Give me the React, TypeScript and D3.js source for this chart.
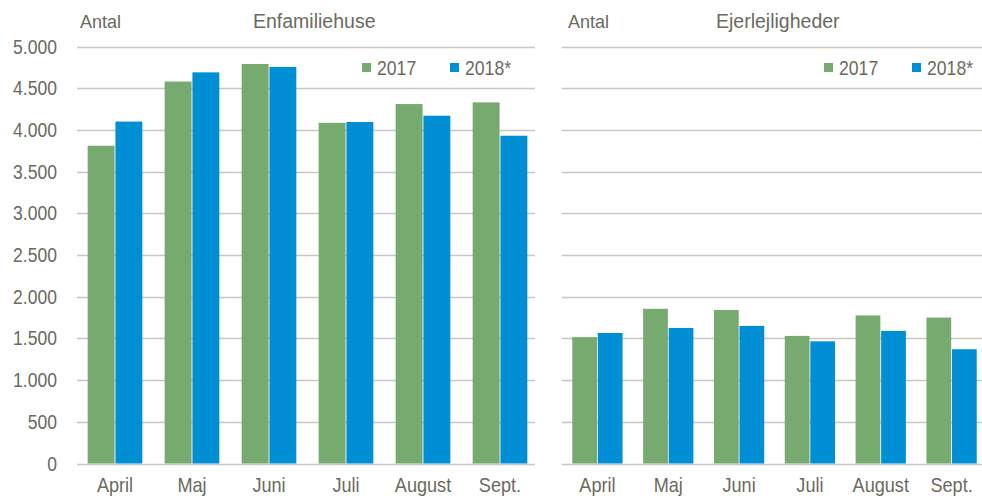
import React from "react";
import * as d3 from "d3";

const months = ["April", "Maj", "Juni", "Juli", "August", "Sept."];
const seriesNames = ["2017", "2018*"];
const house2017 = [3810, 4580, 4790, 4085, 4310, 4330];
const house2018 = [4100, 4690, 4755, 4095, 4170, 3930];
const flat2017 = [1515, 1855, 1840, 1530, 1775, 1750];
const flat2018 = [1565, 1625, 1650, 1465, 1590, 1370];
const yTicks = [0, 500, 1000, 1500, 2000, 2500, 3000, 3500, 4000, 4500, 5000];

const W = 982;
const H = 500;
const GREEN = "#77AA6F";
const BLUE = "#008FD5";
const TEXT = "#6B6A5E";
const GRID = "#C9C6BD";
const FONT = "'Liberation Sans Narrow', 'Arial Narrow', 'Liberation Sans', sans-serif";

const fmt = (v: number) => (v === 0 ? "0" : d3.format(",")(v).replace(/,/g, "."));

type PanelProps = {
  x0: number;
  x1: number;
  gridX0: number;
  gridX1: number;
  title: string;
  titleX: number;
  antalX: number;
  a: number[];
  b: number[];
  showYLabels: boolean;
  legendX: number;
};

const y = d3.scaleLinear().domain([0, 5000]).range([463.5, 46.5]);

function SText(props: { x: number; y: number; sx: number; anchor?: string; size?: number; dy?: string; children: React.ReactNode }) {
  const { x, y: yy, sx, anchor = "start", size = 19, dy } = props;
  return (
    <text
      transform={`translate(${x},${yy}) scale(${sx},1)`}
      dy={dy}
      textAnchor={anchor}
      fontSize={size}
      fill={TEXT}
      fontFamily={FONT}
    >
      {props.children}
    </text>
  );
}

function Panel(p: PanelProps) {
  const x = d3.scaleBand<string>().domain(months).range([p.x0, p.x1]).paddingInner(0.29).paddingOuter(0.145);
  const inner = d3.scaleBand<string>().domain(seriesNames).range([0, x.bandwidth()]).paddingInner(0.03);
  const data = [p.a, p.b];
  const colors = [GREEN, BLUE];
  return (
    <g>
      {yTicks.map((t) => (
        <line key={t} x1={p.gridX0} x2={p.gridX1} y1={Math.round(y(t)) + 0.5} y2={Math.round(y(t)) + 0.5} stroke={GRID} strokeWidth={t === 0 ? 1.5 : 1.3} />
      ))}
      {p.showYLabels &&
        yTicks.map((t) => (
          <SText key={"l" + t} x={57} y={y(t)} dy="0.36em" anchor="end" sx={0.9} size={19.5}>
            {fmt(t)}
          </SText>
        ))}
      {months.map((m, i) => (
        <g key={m} transform={`translate(${x(m)},0)`}>
          {data.map((arr, s) => (
            <rect
              key={s}
              x={inner(seriesNames[s])}
              width={inner.bandwidth()}
              y={y(arr[i])}
              height={y(0) - y(arr[i])}
              fill={colors[s]}
            />
          ))}
        </g>
      ))}
      {months.map((m) => (
        <SText key={"c" + m} x={(x(m) as number) + x.bandwidth() / 2} y={492} anchor="middle" sx={0.93} size={19.5}>
          {m}
        </SText>
      ))}
      <SText x={p.antalX} y={28} sx={0.95}>Antal</SText>
      <SText x={p.titleX} y={28} sx={1.0} size={19.5}>{p.title}</SText>
      {seriesNames.map((s, i) => (
        <g key={s} transform={`translate(${p.legendX + i * 88},0)`}>
          <rect x={0} y={63} width={9} height={9} fill={colors[i]} />
          <SText x={15} y={75} sx={0.86} size={20.5}>{s}</SText>
        </g>
      ))}
    </g>
  );
}

export default function App() {
  return (
    <svg width={W} height={H} style={{ position: "absolute", left: 0, top: 0, background: "#fff" }}>
      <rect width={W} height={H} fill="#fff" />
      <Panel x0={76.5} x1={538.5} gridX0={77} gridX1={535} title="Enfamiliehuse" titleX={253} antalX={80} a={house2017} b={house2018} showYLabels={true} legendX={362} />
      <Panel x0={562} x1={987} gridX0={562} gridX1={982} title="Ejerlejligheder" titleX={716} antalX={568} a={flat2017} b={flat2018} showYLabels={false} legendX={824} />
    </svg>
  );
}
